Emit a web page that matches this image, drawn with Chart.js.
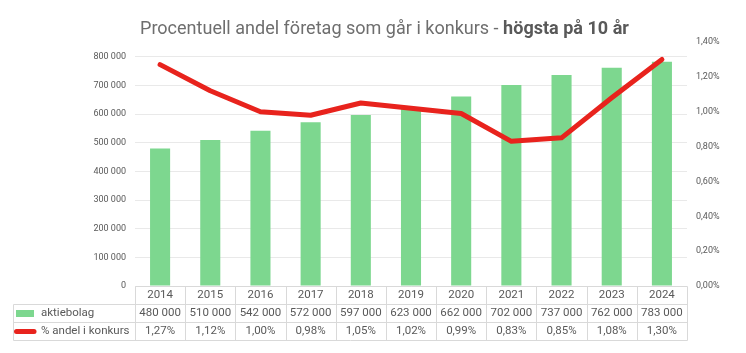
<!DOCTYPE html>
<html><head><meta charset="utf-8">
<script src="https://cdn.jsdelivr.net/npm/chart.js@4/dist/chart.umd.min.js"></script>
<style>
html,body{margin:0;padding:0;background:#fff;}
#wrap{position:relative;width:746px;height:353px;overflow:hidden;}
#title{position:absolute;left:140px;top:17px;white-space:nowrap;font-family:Roboto,"Open Sans",sans-serif;font-size:18.5px;line-height:22px;color:#6e6e6e;transform:scaleX(0.975);transform-origin:0 0;}
#title b{font-weight:700;color:#595959;}
canvas{position:absolute;left:0;top:0;}
</style></head>
<body>
<div id="wrap">
<canvas id="c" width="746" height="353"></canvas>
<div id="title">Procentuell andel företag som går i konkurs - <b>högsta på 10 år</b></div>
</div>
<script>
const years = ['2014','2015','2016','2017','2018','2019','2020','2021','2022','2023','2024'];
const aktiebolag = [480000,510000,542000,572000,597000,623000,662000,702000,737000,762000,783000];
const andelKonkurs = [1.27,1.12,1.00,0.98,1.05,1.02,0.99,0.83,0.85,1.08,1.30];
const leftTicks = [0,100000,200000,300000,400000,500000,600000,700000,800000];
const seriesNames = ['aktiebolag','% andel i konkurs'];

const FONT = 'Roboto, "Open Sans", sans-serif';
const TXT = '#595959';
const GREEN = '#7dd78f';
const RED = '#e8231d';

function fmtNum(v){ return String(v).replace(/\B(?=(\d{3})+(?!\d))/g,' '); }
function fmtPct(v){ return v.toFixed(2).replace('.',',') + '%'; }

const tablePlugin = {
  id:'dataTable',
  afterDraw(chart){
    const {ctx, chartArea:a, scales:{x}} = chart;
    const rowH = 18;
    const t0 = Math.round(a.bottom) + 0.5;
    const leftX = 13.5;
    const right = Math.round(a.right) + 0.5;
    const n = years.length;
    const bounds = [Math.round(a.left)+0.5];
    for(let i=0;i<n-1;i++){
      bounds.push(Math.round((x.getPixelForValue(i)+x.getPixelForValue(i+1))/2)+0.5);
    }
    bounds.push(right);
    ctx.save();
    ctx.strokeStyle = '#d9d9d9';
    ctx.lineWidth = 1;
    ctx.beginPath();
    ctx.moveTo(bounds[0], t0); ctx.lineTo(right, t0);
    for(let r=1;r<=3;r++){ ctx.moveTo(leftX, t0+r*rowH); ctx.lineTo(right, t0+r*rowH); }
    ctx.moveTo(leftX, t0+rowH); ctx.lineTo(leftX, t0+3*rowH);
    bounds.forEach(b=>{ ctx.moveTo(b, t0); ctx.lineTo(b, t0+3*rowH); });
    ctx.stroke();

    ctx.fillStyle = TXT;
    ctx.textAlign = 'center';
    ctx.textBaseline = 'middle';
    ctx.font = '11.5px ' + FONT;
    for(let i=0;i<n;i++){
      const cx = x.getPixelForValue(i);
      ctx.fillText(years[i], cx, t0 + rowH/2);
      ctx.fillText(fmtNum(aktiebolag[i]), cx, t0 + rowH*1.5);
      ctx.fillText(fmtPct(andelKonkurs[i]), cx, t0 + rowH*2.5);
    }
    ctx.textAlign = 'left';
    ctx.fillText(seriesNames[0], 41, t0 + rowH*1.5);
    ctx.fillText(seriesNames[1], 41, t0 + rowH*2.5);
    ctx.fillStyle = GREEN;
    ctx.fillRect(16, t0 + rowH*1.5 - 3.5, 18, 7);
    ctx.strokeStyle = RED;
    ctx.lineWidth = 5;
    ctx.lineCap = 'round';
    ctx.beginPath();
    ctx.moveTo(16.5, t0 + rowH*2.5); ctx.lineTo(34, t0 + rowH*2.5);
    ctx.stroke();
    ctx.restore();
  }
};

new Chart(document.getElementById('c'), {
  data:{
    labels: years,
    datasets:[
      {type:'line', label:seriesNames[1], data:andelKonkurs, yAxisID:'y1', borderColor:RED, borderWidth:5,
       pointRadius:0, borderCapStyle:'round', borderJoinStyle:'round', tension:0, order:0},
      {type:'bar', label:seriesNames[0], data:aktiebolag, yAxisID:'y', backgroundColor:GREEN,
       categoryPercentage:1, barPercentage:0.4, order:1}
    ]
  },
  options:{
    responsive:false, animation:false, devicePixelRatio:1,
    layout:{padding:{top:42,bottom:67,left:0,right:0}},
    plugins:{legend:{display:false}, title:{display:false}, tooltip:{enabled:false}},
    scales:{
      x:{display:false, offset:true, grid:{display:false}},
      y:{position:'left', min:0, max:852000,
         afterBuildTicks(ax){ ax.ticks = leftTicks.map(v=>({value:v})); },
         afterFit(ax){ ax.width = 135; },
         border:{display:false},
         grid:{color:'#e9e9e9', drawTicks:false, lineWidth:1},
         ticks:{padding:9, color:TXT, font:{family:FONT,size:9}, callback:v=>fmtNum(v)}},
      y1:{position:'right', min:0, max:1.4,
         afterFit(ax){ ax.width = 59; },
         border:{display:false},
         grid:{display:false, drawTicks:false},
         ticks:{stepSize:0.2, padding:9, color:TXT, font:{family:FONT,size:9}, callback:v=>fmtPct(v)}}
    }
  },
  plugins:[tablePlugin]
});
</script>
</body></html>
